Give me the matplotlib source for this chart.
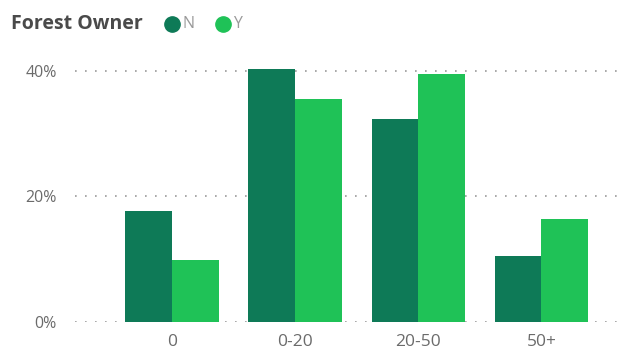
import numpy as np
import matplotlib
matplotlib.use("Agg")
import matplotlib.pyplot as plt
from matplotlib.lines import Line2D

# data
categories = ["0", "0-20", "20-50", "50+"]
n_values = [17.7, 40.2, 32.3, 10.5]
y_values = [9.9, 35.4, 39.4, 16.4]
y_ticks = [0, 20, 40]
y_tick_labels = ["0%", "20%", "40%"]
legend_title = "Forest Owner"
legend_labels = ["N", "Y"]

dark_green = "#0E7A57"
light_green = "#1FC257"
text_gray = "#6b6b6b"

plt.rcParams["font.family"] = ["Open Sans", "DejaVu Sans"]

fig = plt.figure(figsize=(6.28, 3.5), dpi=100)
ax = fig.add_axes([75 / 628, 1 - 322 / 350, (625 - 75) / 628, (322 - 58) / 350])

x = np.arange(len(categories))
w = 0.38
ax.bar(x - w / 2, n_values, width=w, color=dark_green, zorder=3)
ax.bar(x + w / 2, y_values, width=w, color=light_green, zorder=3)

ax.set_xlim(-0.79, 3.68)
ax.set_ylim(0, 42)
ax.set_yticks(y_ticks)
ax.set_yticklabels(y_tick_labels)
ax.set_xticks(x)
ax.set_xticklabels(categories)
ax.tick_params(axis="both", length=0, labelcolor=text_gray)
ax.tick_params(axis="y", pad=13, labelsize=11.5)
ax.tick_params(axis="x", pad=9, labelsize=12.5)

ax.grid(axis="y", color="#9a9a9a", linestyle=(0, (1, 5)), linewidth=1.2, zorder=0)
for s in ax.spines.values():
    s.set_visible(False)

# legend drawn by hand
ly = 1 - 24 / 350
fig.text(11 / 628, ly, legend_title, fontsize=14, fontweight="bold",
         color="#4a4a4a", va="center", ha="left")
for cx, col, lab in zip([172, 223], [dark_green, light_green], legend_labels):
    fig.add_artist(Line2D([cx / 628], [ly], transform=fig.transFigure, marker="o",
                          markersize=11, color=col, linestyle=""))
    fig.text((cx + 10) / 628, ly, lab, fontsize=11.5, color="#9a9a9a",
             va="center", ha="left")

fig.savefig("out.png", dpi=100, facecolor="white")
